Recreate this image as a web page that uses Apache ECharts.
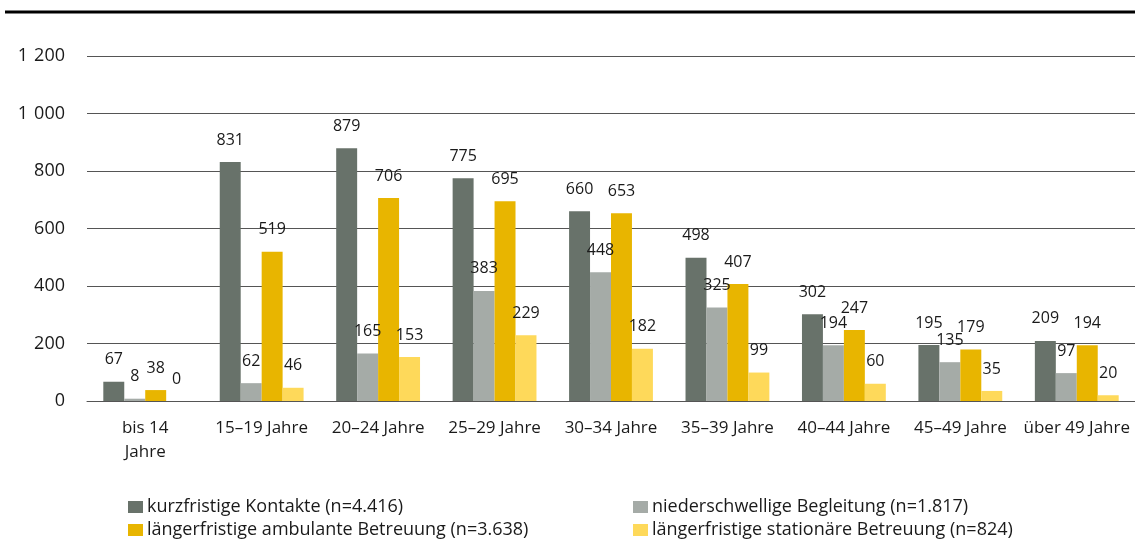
<!DOCTYPE html>
<html>
<head>
<meta charset="utf-8">
<script src="https://cdn.jsdelivr.net/npm/echarts@6/dist/echarts.min.js"></script>
<style>
  html, body { margin: 0; padding: 0; background: #fff; }
  #chart { width: 1135px; height: 540px; }
</style>
</head>
<body>
<div id="chart"></div>
<script>
const categories = ['bis 14\nJahre', '15–19 Jahre', '20–24 Jahre', '25–29 Jahre', '30–34 Jahre',
  '35–39 Jahre', '40–44 Jahre', '45–49 Jahre', 'über 49 Jahre'];
const seriesNames = [
  'kurzfristige Kontakte (n=4.416)',
  'niederschwellige Begleitung (n=1.817)',
  'längerfristige ambulante Betreuung (n=3.638)',
  'längerfristige stationäre Betreuung (n=824)'
];
const kurzfristig = [67, 831, 879, 775, 660, 498, 302, 195, 209];
const niederschwellig = [8, 62, 165, 383, 448, 325, 194, 135, 97];
const ambulant = [38, 519, 706, 695, 653, 407, 247, 179, 194];
const stationaer = [0, 46, 153, 229, 182, 99, 60, 35, 20];
const colors = ['#68726a', '#a5aba7', '#e8b500', '#fed95a'];

const font = 'Open Sans';
const chart = echarts.init(document.getElementById('chart'));

const mk = (name, data, i) => ({
  name: name,
  type: 'bar',
  data: data,
  barGap: '0%',
  barCategoryGap: '28%',
  itemStyle: {color: colors[i]},
  label: {
    show: true,
    position: 'top',
    distance: 14,
    color: '#1a1a1a',
    fontFamily: font,
    fontSize: 16
  }
});

// one legend per entry, two columns
const legendPos = [[128, 498], [633, 498], [128, 521], [633, 521]];
const legends = seriesNames.map((n, i) => ({
  data: [n],
  left: legendPos[i][0], top: legendPos[i][1],
  itemWidth: 15, itemHeight: 12, itemGap: 0,
  icon: 'rect',
  padding: 0,
  textStyle: {fontFamily: font, fontSize: 18, color: '#1a1a1a', padding: [0, 0, 0, -1]}
}));

chart.setOption({
  animation: false,
  color: colors,
  graphic: [{
    type: 'line',
    shape: {x1: 5, y1: 12, x2: 1135, y2: 12},
    style: {stroke: '#000', lineWidth: 3}
  }],
  grid: {left: 87, right: 0, top: 56, bottom: 139, containLabel: false},
  legend: legends,
  xAxis: {
    type: 'category',
    data: categories,
    axisLine: {show: true, lineStyle: {color: '#555', width: 1}},
    axisTick: {show: false},
    axisLabel: {
      fontFamily: font, fontSize: 17, color: '#1a1a1a',
      margin: 15, lineHeight: 24, interval: 0
    }
  },
  yAxis: {
    type: 'value',
    min: 0, max: 1200, interval: 200,
    axisLine: {show: false},
    axisTick: {show: false},
    splitLine: {lineStyle: {color: '#555', width: 1}},
    axisLabel: {
      fontFamily: font, fontSize: 18, color: '#1a1a1a', margin: 22,
      formatter: v => String(v).replace(/\B(?=(\d{3})+(?!\d))/g, '\u2004')
    }
  },
  series: [
    mk(seriesNames[0], kurzfristig, 0),
    mk(seriesNames[1], niederschwellig, 1),
    mk(seriesNames[2], ambulant, 2),
    mk(seriesNames[3], stationaer, 3)
  ]
});
</script>
</body>
</html>
